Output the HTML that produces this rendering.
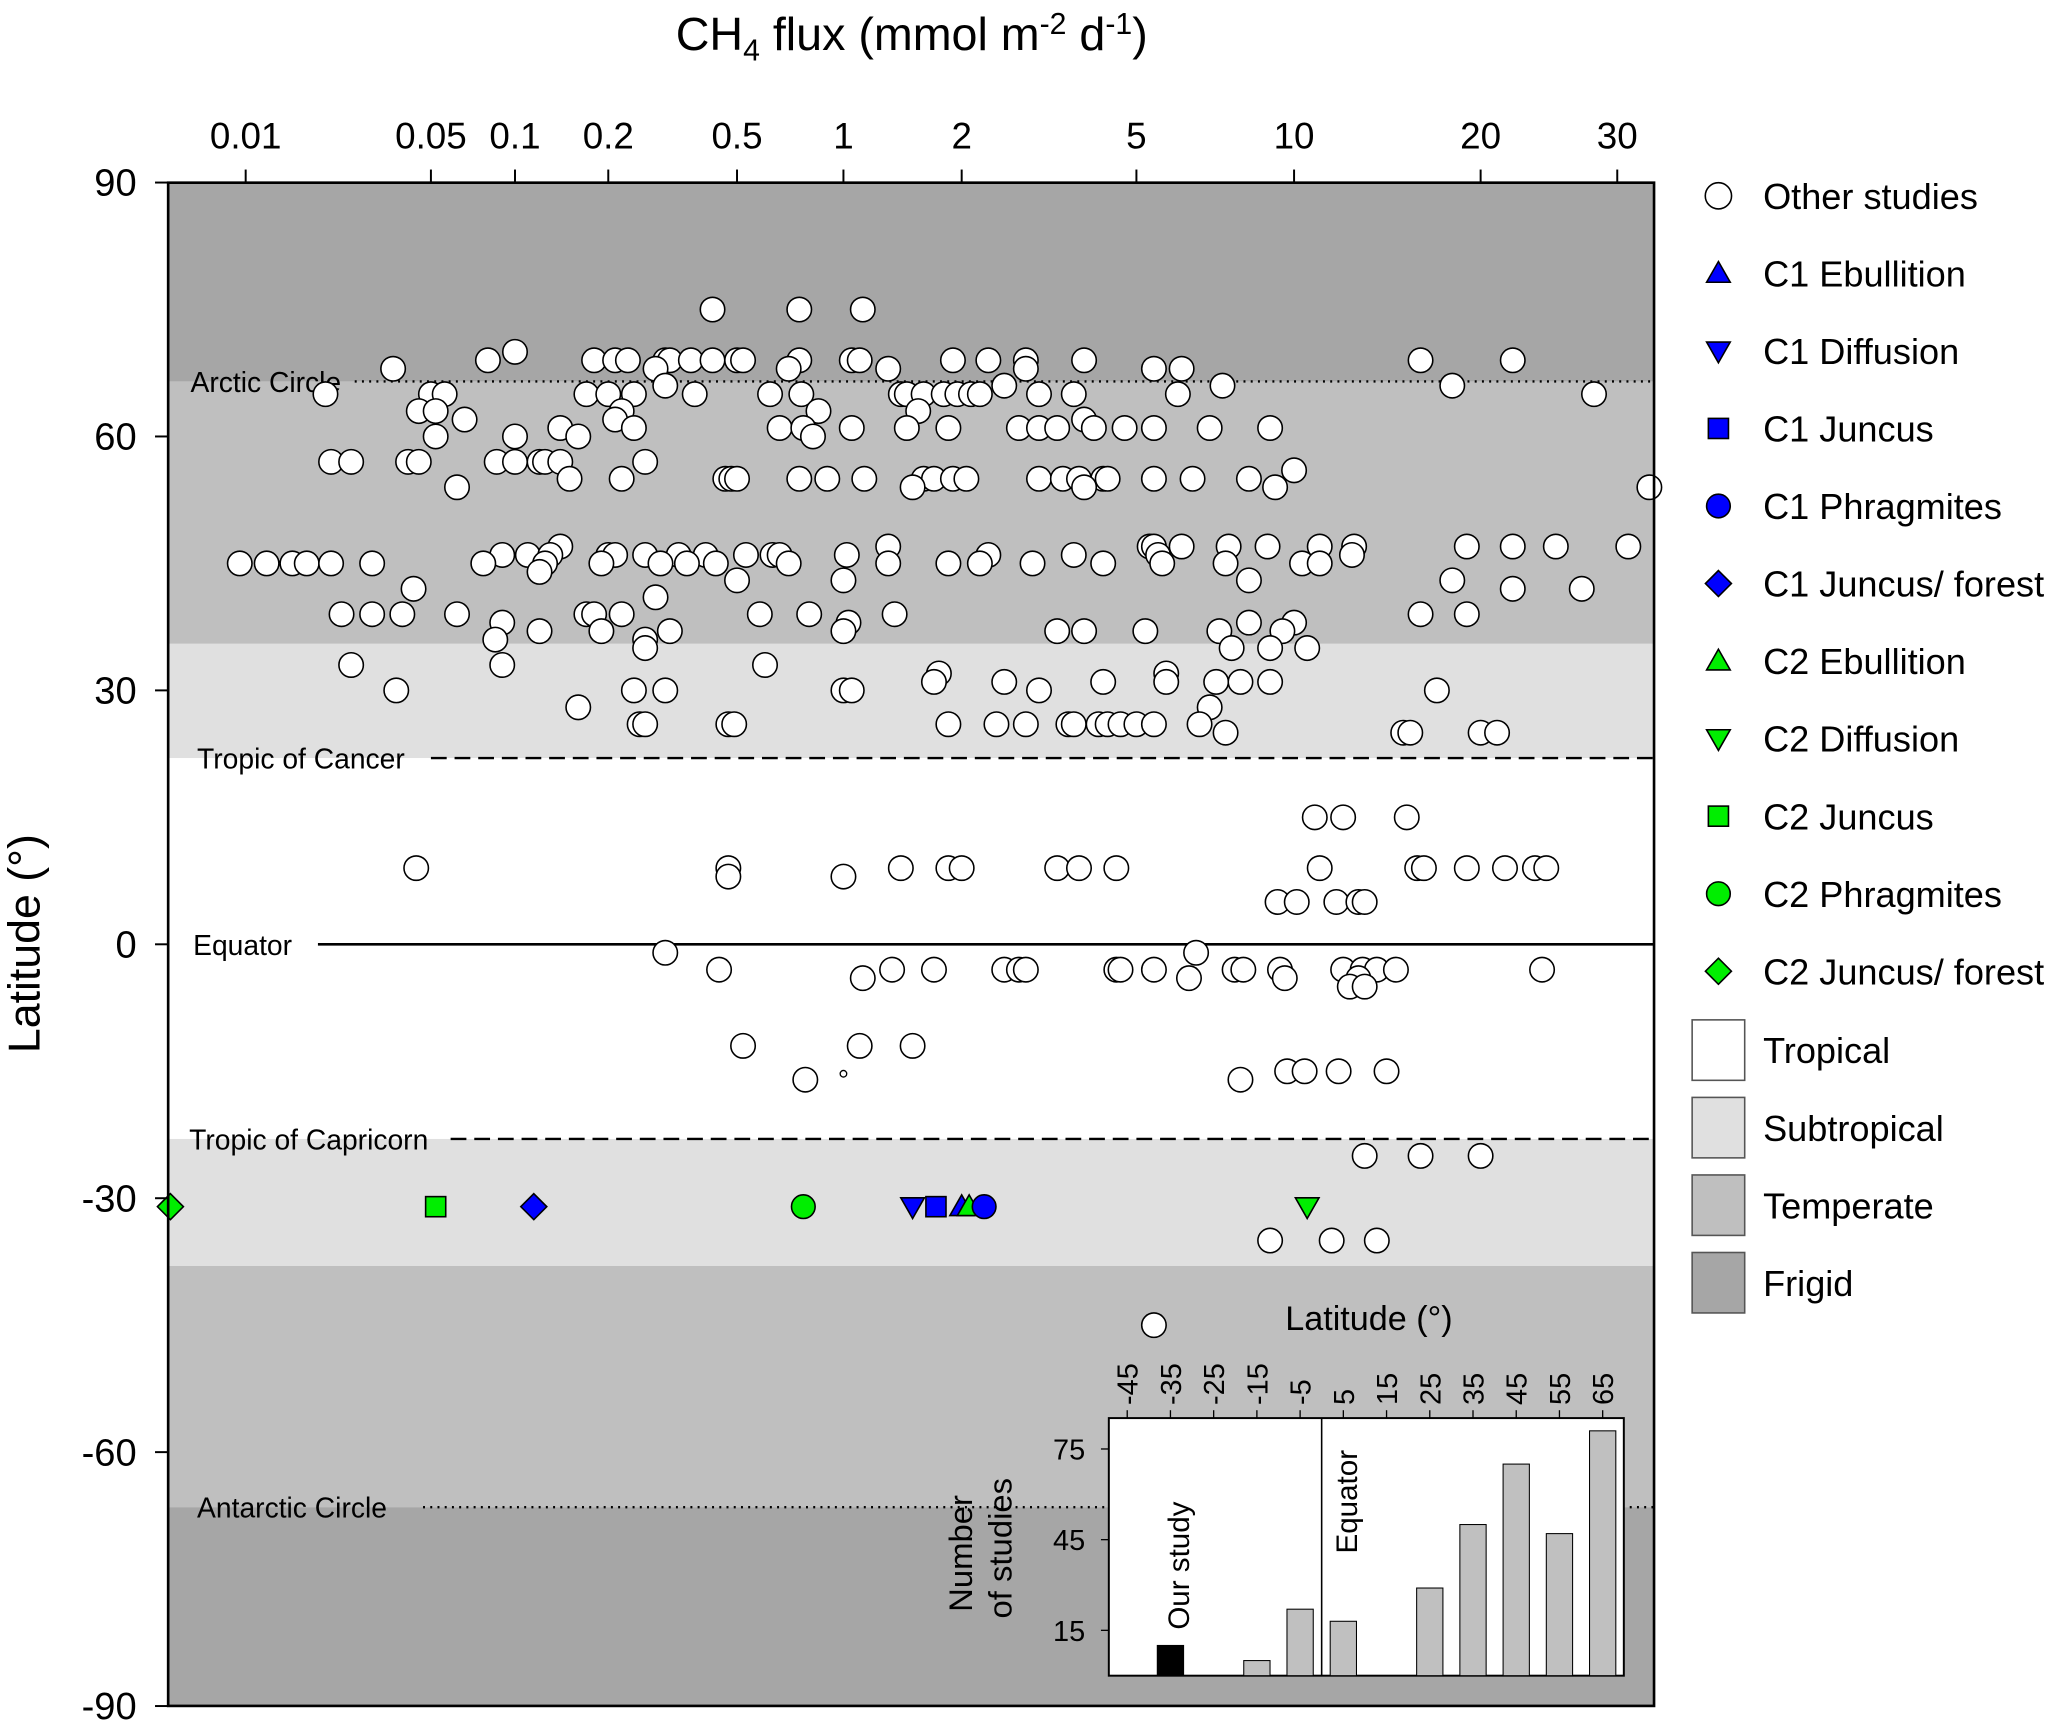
<!DOCTYPE html>
<html><head><meta charset="utf-8">
<style>
html,body{margin:0;padding:0;background:#fff;}
svg{display:block;font-family:"Liberation Sans",Arial,sans-serif;}
</style></head>
<body>
<svg id="chart" xmlns="http://www.w3.org/2000/svg" width="2060" height="1723" viewBox="0 0 1568 1311" preserveAspectRatio="none">
  <g id="bands"></g>
  <g id="refs"></g>
  <g id="marks"></g>
  <rect x="128" y="139" width="1131" height="1159" fill="none" stroke="#000" stroke-width="2"/>
  <g id="axes"></g>
  <g id="inset"></g>
  <g id="legend"></g>
  <text x="694" y="38" font-size="35.5" text-anchor="middle">CH<tspan font-size="23" dy="8">4</tspan><tspan dy="-8"> flux (mmol m</tspan><tspan font-size="23" dy="-12">-2</tspan><tspan dy="12"> d</tspan><tspan font-size="23" dy="-12">-1</tspan><tspan dy="12">)</tspan></text>
  <text transform="translate(30,718) rotate(-90)" font-size="34" text-anchor="middle">Latitude (°)</text>
</svg>
<script>
const xTickVals=[0.01,0.05,0.1,0.2,0.5,1,2,5,10,20,30];
const xTickLabels=['0.01','0.05','0.1','0.2','0.5','1','2','5','10','20','30'];
const yTickVals=[90,60,30,0,-30,-60,-90];
const yTickLabels=['90','60','30','0','-30','-60','-90'];
// Other studies: [latitude, [fluxes...]]
const otherRows=[
[75,[0.42,0.75,1.12]],
[70,[0.1]],
[69,[0.08,0.18,0.21,0.23,0.3,0.31,0.36,0.42,0.5,0.52,0.75,1.05,1.1,1.9,2.3,2.8,3.8,16,22]],
[68,[0.036,0.28,0.7,1.3,2.8,5.4,6.1]],
[66,[0.3,2.5,7.3,18]],
[65,[0.02,0.05,0.056,0.17,0.2,0.24,0.37,0.62,0.76,1.4,1.45,1.6,1.8,1.95,2.1,2.2,3,3.6,6,28]],
[63,[0.045,0.052,0.22,0.85,1.55]],
[62,[0.066,0.21,3.8]],
[61,[0.14,0.24,0.66,0.77,1.05,1.45,1.85,2.7,3,3.3,4,4.7,5.4,6.9,9]],
[60,[0.052,0.1,0.16,0.82]],
[57,[0.021,0.025,0.041,0.045,0.086,0.1,0.12,0.125,0.14,0.26]],
[56,[10]],
[55,[0.15,0.22,0.46,0.48,0.5,0.75,0.9,1.13,1.6,1.7,1.9,2.05,3,3.4,3.7,4.2,4.3,5.4,6.4,8.2]],
[54,[0.062,1.5,3.8,9.2,33]],
[47,[0.14,1.3,5.3,5.4,6.1,7.5,8.9,11,12.5,19,22,25,31]],
[46,[0.09,0.11,0.13,0.2,0.21,0.26,0.33,0.4,0.53,0.63,0.66,1.02,2.3,3.6,5.5,12.4]],
[45,[0.0095,0.012,0.015,0.017,0.021,0.03,0.077,0.125,0.19,0.29,0.35,0.43,0.7,1.3,1.85,2.2,2.9,4.2,5.6,7.4,10.3,11]],
[44,[0.12]],
[43,[0.5,1,8.2,18]],
[42,[0.043,22,27]],
[41,[0.28]],
[39,[0.023,0.03,0.039,0.062,0.17,0.18,0.22,0.58,0.8,1.35,16,19]],
[38,[0.09,1.03,8.2,10]],
[37,[0.12,0.19,0.31,1,3.3,3.8,5.2,7.2,9.5]],
[36,[0.085,0.26]],
[35,[0.26,7.6,9,10.5]],
[33,[0.025,0.09,0.6]],
[32,[1.75,5.7]],
[31,[1.7,2.5,4.2,5.7,7.1,7.9,9]],
[30,[0.037,0.24,0.3,1,1.05,3,17]],
[28,[0.16,6.9]],
[26,[0.25,0.26,0.47,0.49,1.85,2.4,2.8,3.5,3.6,4.1,4.3,4.6,5,5.4,6.6]],
[25,[7.4,15,15.4,20,21]],
[15,[10.8,12,15.2]],
[9,[0.044,0.47,1.4,1.85,2,3.3,3.7,4.5,11,15.8,16.2,19,21.5,23.5,24.3]],
[8,[0.47,1]],
[5,[9.3,10.1,11.7,12.7,13]],
[-1,[0.3,6.5]],
[-3,[0.44,1.33,1.7,2.5,2.7,2.8,4.5,4.6,5.4,7.7,8,9.4,12,12.9,13.6,14.6,24]],
[-4,[1.12,6.3,9.6,12.7]],
[-5,[12.3,13]],
[-12,[0.52,1.1,1.5]],
[-15,[9.7,10.4,11.8,14.1]],
[-16,[0.78,7.9]],
[-25,[13,16,20]],
[-35,[9,11.5,13.6]],
[-45,[5.4]]
];
const studyNames=['C2 Juncus/ forest','C2 Juncus','C1 Juncus/ forest','C2 Phragmites','C1 Diffusion','C1 Juncus','C1 Ebullition','C2 Ebullition','C1 Phragmites','C2 Diffusion'];
const studyFlux=[0.0052,0.052,0.115,0.77,1.5,1.72,2.0,2.08,2.25,10.5];
const studyLat=[-31,-31,-31,-31,-31,-31,-31,-31,-31,-31];
const insetCats=[-45,-35,-25,-15,-5,5,15,25,35,45,55,65];
const insetCounts=[0,10,0,5,22,18,0,29,50,70,47,81];
const insetYTicks=[15,45,75];

const NS='http://www.w3.org/2000/svg';
function el(tag,attrs,parent,txt){const e=document.createElementNS(NS,tag);for(const k in attrs)e.setAttribute(k,attrs[k]);if(txt!==undefined)e.textContent=txt;parent.appendChild(e);return e;}
const knotPx=[187,328,392,463,561,642,732,865,985,1127,1231];
function xs(v){const l=Math.log10(v);const L=xTickVals.map(Math.log10);let i=0;
  if(l<=L[0])i=0;else if(l>=L[L.length-1])i=L.length-2;else{while(l>L[i+1])i++;}
  return knotPx[i]+(l-L[i])/(L[i+1]-L[i])*(knotPx[i+1]-knotPx[i]);}
function ys(lat){return 718.5-lat*6.44;}

const bands=document.getElementById('bands');
const zones=[[90,66.5,'#a6a6a6','frigid-north'],[66.5,35.5,'#bfbfbf','temperate-north'],[35.5,22,'#e0e0e0','subtropical-north'],[22,-23,'#ffffff','tropical'],[-23,-38,'#e0e0e0','subtropical-south'],[-38,-66.5,'#bfbfbf','temperate-south'],[-66.5,-90,'#a6a6a6','frigid-south']];
zones.forEach(z=>{const r=el('rect',{x:128,y:ys(z[0]),width:1131,height:ys(z[1])-ys(z[0]),fill:z[2]},bands);

});

const refs=document.getElementById('refs');
const refLines=[[66.5,270,'1.5 4','Arctic Circle',145,'arctic-circle'],[22,328,'12 6','Tropic of Cancer',150,'tropic-of-cancer'],[0,242,'none','Equator',147,'equator'],[-23,343,'12 6','Tropic of Capricorn',144,'tropic-of-capricorn'],[-66.5,322,'1.5 4','Antarctic Circle',150,'antarctic-circle']];
refLines.forEach(r=>{const y=ys(r[0]);
const ln=el('line',{x1:r[1],x2:1259,y1:y,y2:y,stroke:'#000','stroke-width':r[2]==='none'?2:1.8,'stroke-dasharray':r[2]},refs);


const t=el('text',{x:r[4],y:y+8,'font-size':21.5},refs,r[3]);

});

const marks=document.getElementById('marks');
otherRows.forEach(row=>{row[1].forEach(f=>{const c=el('circle',{cx:xs(f),cy:ys(row[0]),r:9.3,fill:'#fff',stroke:'#000','stroke-width':1.2},marks);

});});
el('circle',{cx:642,cy:817,r:2.5,fill:'#fff',stroke:'#000','stroke-width':1},marks);

function marker(g,shape,color,x,y,s){let e;
 if(shape==='circle')e=el('circle',{cx:x,cy:y,r:s,fill:color,stroke:'#000','stroke-width':1.2},g);
 else if(shape==='square')e=el('rect',{x:x-s*0.85,y:y-s*0.85,width:s*1.7,height:s*1.7,fill:color,stroke:'#000','stroke-width':1.2},g);
 else if(shape==='diamond')e=el('polygon',{points:`${x},${y-s*1.1} ${x+s*1.1},${y} ${x},${y+s*1.1} ${x-s*1.1},${y}`,fill:color,stroke:'#000','stroke-width':1.2},g);
 else if(shape==='up')e=el('polygon',{points:`${x},${y-s} ${x+s},${y+s*0.75} ${x-s},${y+s*0.75}`,fill:color,stroke:'#000','stroke-width':1.2},g);
 else e=el('polygon',{points:`${x},${y+s} ${x+s},${y-s*0.75} ${x-s},${y-s*0.75}`,fill:color,stroke:'#000','stroke-width':1.2},g);
 return e;}
const styleMap={'C1 Ebullition':['up','#0000ff'],'C1 Diffusion':['down','#0000ff'],'C1 Juncus':['square','#0000ff'],'C1 Phragmites':['circle','#0000ff'],'C1 Juncus/ forest':['diamond','#0000ff'],'C2 Ebullition':['up','#00ee00'],'C2 Diffusion':['down','#00ee00'],'C2 Juncus':['square','#00ee00'],'C2 Phragmites':['circle','#00ee00'],'C2 Juncus/ forest':['diamond','#00ee00']};
studyNames.forEach((n,i)=>{const st=styleMap[n];const m=marker(marks,st[0],st[1],xs(studyFlux[i]),ys(studyLat[i]),9);

});

const axes=document.getElementById('axes');
xTickVals.forEach((v,i)=>{const x=xs(v);el('line',{x1:x,x2:x,y1:139,y2:129,stroke:'#000','stroke-width':1.5},axes);
const t=el('text',{x:x,y:113,'font-size':28,'text-anchor':'middle'},axes,xTickLabels[i]);

});
yTickVals.forEach((v,i)=>{const y=ys(v);el('line',{x1:118,x2:128,y1:y,y2:y,stroke:'#000','stroke-width':1.5},axes);
const t=el('text',{x:104,y:y+10,'font-size':29,'text-anchor':'end'},axes,yTickLabels[i]);

});

// inset
const inset=document.getElementById('inset');
const bx0=844,bx1=1236,by0=1079,by1=1275;
function ixs(c){return 858+(c+45)/10*32.9;}
function iys(n){return by1-n*2.3;}
el('rect',{x:bx0,y:by0,width:bx1-bx0,height:by1-by0,fill:'#fff',stroke:'#000','stroke-width':1.5},inset);
insetCats.forEach((c,i)=>{const n=insetCounts[i];if(n<=0)return;const x=ixs(c);
const b=el('rect',{x:x-10,y:iys(n),width:20,height:by1-iys(n),fill:c===-35?'#000':'#c0c0c0',stroke:'#000','stroke-width':0.8},inset);

});
insetCats.forEach(c=>{const x=ixs(c);el('line',{x1:x,x2:x,y1:by0,y2:by0-6,stroke:'#000','stroke-width':1},inset);
const t=el('text',{transform:`translate(${x+8},${by0-10}) rotate(-90)`,'font-size':22},inset,String(c));

});
insetYTicks.forEach(v=>{const y=iys(v);el('line',{x1:bx0,x2:bx0-6,y1:y,y2:y,stroke:'#000','stroke-width':1},inset);
const t=el('text',{x:bx0-18,y:y+8,'font-size':22,'text-anchor':'end'},inset,String(v));

});
el('line',{x1:1006,x2:1006,y1:by0,y2:by1,stroke:'#000','stroke-width':1.2},inset);
el('text',{transform:'translate(905,1240) rotate(-90)','font-size':22.5},inset,'Our study');
el('text',{transform:'translate(1033,1182) rotate(-90)','font-size':22.5},inset,'Equator');
el('text',{x:1042,y:1012,'font-size':26,'text-anchor':'middle'},inset,'Latitude (°)');
el('text',{transform:'translate(740,1182) rotate(-90)','font-size':25,'text-anchor':'middle'},inset,'Number');
el('text',{transform:'translate(770,1178) rotate(-90)','font-size':25,'text-anchor':'middle'},inset,'of studies');

// legend
const legend=document.getElementById('legend');
const legNames=['Other studies','C1 Ebullition','C1 Diffusion','C1 Juncus','C1 Phragmites','C1 Juncus/ forest','C2 Ebullition','C2 Diffusion','C2 Juncus','C2 Phragmites','C2 Juncus/ forest'];
legNames.forEach((n,i)=>{const y=149+59*i;let m;
 if(i===0)m=el('circle',{cx:1308,cy:y,r:10,fill:'#fff',stroke:'#000','stroke-width':1.2},legend);
 else{const st=styleMap[n];m=marker(legend,st[0],st[1],1308,y,9);}
 
 
 const t=el('text',{x:1342,y:y+10,'font-size':27.5},legend,n);
 
 });
[['Tropical','#ffffff'],['Subtropical','#e0e0e0'],['Temperate','#bfbfbf'],['Frigid','#a6a6a6']].forEach((z,i)=>{const y=799+59*i;
 const r=el('rect',{x:1288,y:y-23,width:40,height:46,fill:z[1],stroke:'#555','stroke-width':1.2},legend);
 
 
 const t=el('text',{x:1342,y:y+10,'font-size':27.5},legend,z[0]);
 
 });
</script>
</body></html>
